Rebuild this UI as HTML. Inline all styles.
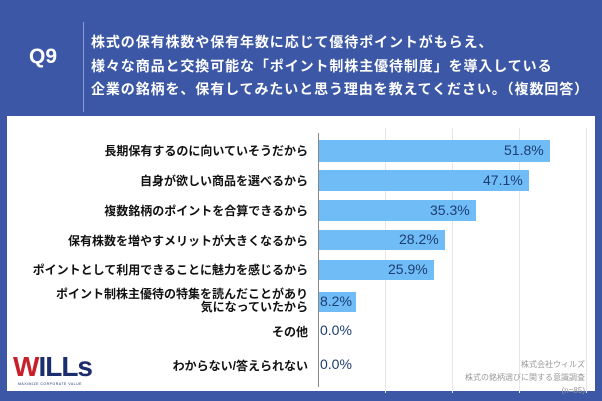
<!DOCTYPE html>
<html><head><meta charset="utf-8"><style>
body{margin:0;width:602px;height:401px;background:#3b57a5;position:relative;overflow:hidden;font-family:"Liberation Sans","Noto Sans CJK JP",sans-serif}
.a{position:absolute}
.lbl{position:absolute;right:294px;font-size:12px;font-weight:bold;color:#111;text-align:right;white-space:nowrap;line-height:13px}
.bar{position:absolute;left:319px;background:#6fbcf7}
.val{position:absolute;font-size:14px;color:#1c3d70;white-space:nowrap}
.g{position:absolute;top:128px;width:1px;height:265px;background:#e6e6e6}
</style></head><body>
<div class="a" style="left:29px;top:45px;color:#fff;font-size:21px;font-weight:bold">Q9</div>
<div class="a" style="left:83px;top:22px;width:1px;height:90px;background:#8a9cd0"></div>
<div class="a" style="left:91px;top:31px;color:#fff;font-size:14px;font-weight:bold;line-height:23.5px;white-space:nowrap;letter-spacing:0.9px">株式の保有株数や保有年数に応じて優待ポイントがもらえ、<br>様々な商品と交換可能な「ポイント制株主優待制度」を導入している<br>企業の銘柄を、保有してみたいと思う理由を教えてください。（複数回答）</div>
<div class="a" style="left:7px;top:116px;width:588px;height:275px;background:#fff"></div>
<div class="g" style="left:385px"></div><div class="g" style="left:452px"></div><div class="g" style="left:519px"></div><div class="g" style="left:586px"></div>
<div class="a" style="left:318px;top:133px;width:1px;height:254px;background:#888"></div>

<div class="bar" style="top:140px;height:22px;width:231px"></div><div class="val" style="left:504px;top:142px">51.8%</div>
<div class="bar" style="top:170px;height:21px;width:210px"></div><div class="val" style="left:483px;top:172px">47.1%</div>
<div class="bar" style="top:200px;height:21px;width:157px"></div><div class="val" style="left:430px;top:202px">35.3%</div>
<div class="bar" style="top:230px;height:20px;width:126px"></div><div class="val" style="left:399px;top:231px">28.2%</div>
<div class="bar" style="top:260px;height:20px;width:115px"></div><div class="val" style="left:388px;top:261px">25.9%</div>
<div class="bar" style="top:292px;height:20px;width:37px"></div><div class="val" style="left:320px;top:293px">8.2%</div>
<div class="val" style="left:320px;top:322px">0.0%</div>
<div class="val" style="left:320px;top:356px">0.0%</div>

<div class="lbl" style="top:145px">長期保有するのに向いていそうだから</div>
<div class="lbl" style="top:175px">自身が欲しい商品を選べるから</div>
<div class="lbl" style="top:205px">複数銘柄のポイントを合算できるから</div>
<div class="lbl" style="top:235px">保有株数を増やすメリットが大きくなるから</div>
<div class="lbl" style="top:264px">ポイントとして利用できることに魅力を感じるから</div>
<div class="lbl" style="top:288px">ポイント制株主優待の特集を読んだことがあり<br>気になっていたから</div>
<div class="lbl" style="top:326px">その他</div>
<div class="lbl" style="top:360px">わからない/答えられない</div>

<div class="a" style="right:17px;top:358px;font-size:8px;color:#999;text-align:right;line-height:13px">株式会社ウィルズ<br>株式の銘柄選びに関する意識調査<br>(n=85)</div>
<div class="a" style="left:13px;top:353px;font-size:28px;font-weight:bold;color:#1c2d6e;letter-spacing:-1px;line-height:28px"><span style="color:#c8202a">W</span>ILLs</div>
<div class="a" style="left:18px;top:382px;font-size:3.5px;color:#1c2d6e;letter-spacing:0.5px">MAXIMIZE CORPORATE VALUE</div>
</body></html>
